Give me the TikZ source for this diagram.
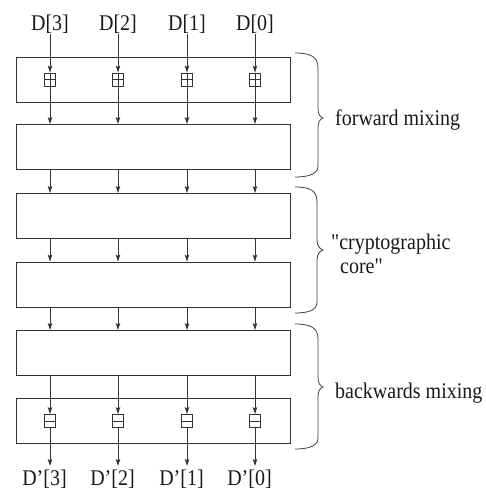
\documentclass[tikz,border=0pt]{standalone}
\usepackage{fontspec}
\usepackage{graphicx}
\setmainfont{Liberation Serif}
\usetikzlibrary{arrows.meta}
\newcommand\talltext[1]{\scalebox{1}[1.12]{#1}}
\begin{document}
\begin{tikzpicture}[x=1pt,y=-1pt,
  ln/.style={draw=black!80,line width=0.9pt},
  arr/.style={ln,-{Stealth[length=7pt,width=4.5pt,inset=1.5pt]}},
  stage/.style={ln,rectangle,minimum width=274pt,minimum height=45pt,inner sep=0pt},
  opbox/.style={ln,rectangle,minimum width=11pt,minimum height=13pt,inner sep=0pt,fill=white},
  lbl/.style={font=\fontsize{20}{22}\selectfont,inner sep=0pt,text=black!90},
  brace/.style={draw=black!75,line width=0.8pt}]
\useasboundingbox (0,0) rectangle (486,493);
% stages
\node[stage] (b1) at (153,79.5) {};
\node[stage] (b2) at (153,147) {};
\node[stage] (b3) at (153,216) {};
\node[stage] (b4) at (153,284.5) {};
\node[stage] (b5) at (153,353) {};
\node[stage] (b6) at (153,421) {};
% columns
\foreach \i/\x in {3/50,2/118,1/187,0/255}{
  \node[lbl,anchor=base] (in\i) at (\x,30) {\talltext{D[\i]}};
  \node[lbl,anchor=base] (out\i) at (\x-5.5,485) {\talltext{D'[\i]}};
  \node[opbox] (p\i) at (\x,79.5) {};
  \draw[ln] (p\i.west) -- (p\i.east) (p\i.north) -- (p\i.south);
  \node[opbox] (m\i) at (\x,421) {};
  \draw[ln] (m\i.west) -- (m\i.east);
  \coordinate (top\i) at (\x,34);
  \coordinate (bot\i) at (\x,466);
  \draw[arr] (top\i) -- (p\i.north);
  \draw[arr] (p\i.south) -- (p\i |- b2.north);
  \draw[arr] (p\i |- b2.south) -- (p\i |- b3.north);
  \draw[arr] (p\i |- b3.south) -- (p\i |- b4.north);
  \draw[arr] (p\i |- b4.south) -- (p\i |- b5.north);
  \draw[arr] (m\i |- b5.south) -- (m\i.north);
  \draw[arr] (m\i.south) -- (bot\i);
}
% braces
\draw[brace] (295,53) .. controls (311,53) and (318,57) .. (318,68) -- (318,108)
  .. controls (318,114) and (320,117) .. (323,118)
  .. controls (320,119) and (318,122) .. (318,128) -- (318,166)
  .. controls (318,173) and (311,177) .. (295,177);
\draw[brace] (295,187) .. controls (311,187) and (317,191) .. (317,202) -- (317,240)
  .. controls (317,246) and (320,249) .. (323,250)
  .. controls (320,251) and (317,254) .. (317,260) -- (317,302)
  .. controls (317,309) and (311,313) .. (295,313);
\draw[brace] (295,324) .. controls (311,324) and (318,328) .. (318,339) -- (318,377)
  .. controls (318,383) and (320,386) .. (323,387)
  .. controls (320,388) and (318,391) .. (318,397) -- (318,438)
  .. controls (318,445) and (311,449) .. (295,449);
\node[lbl,anchor=base west] (fm) at (335,125) {\talltext{forward mixing}};
\node[lbl,anchor=base west] (cc1) at (331,249) {\talltext{\textquotedbl cryptographic}};
\node[lbl,anchor=base west] (cc2) at (340,273) {\talltext{core\textquotedbl}};
\node[lbl,anchor=base west] (bm) at (335,398) {\talltext{backwards mixing}};
\end{tikzpicture}
\end{document}
